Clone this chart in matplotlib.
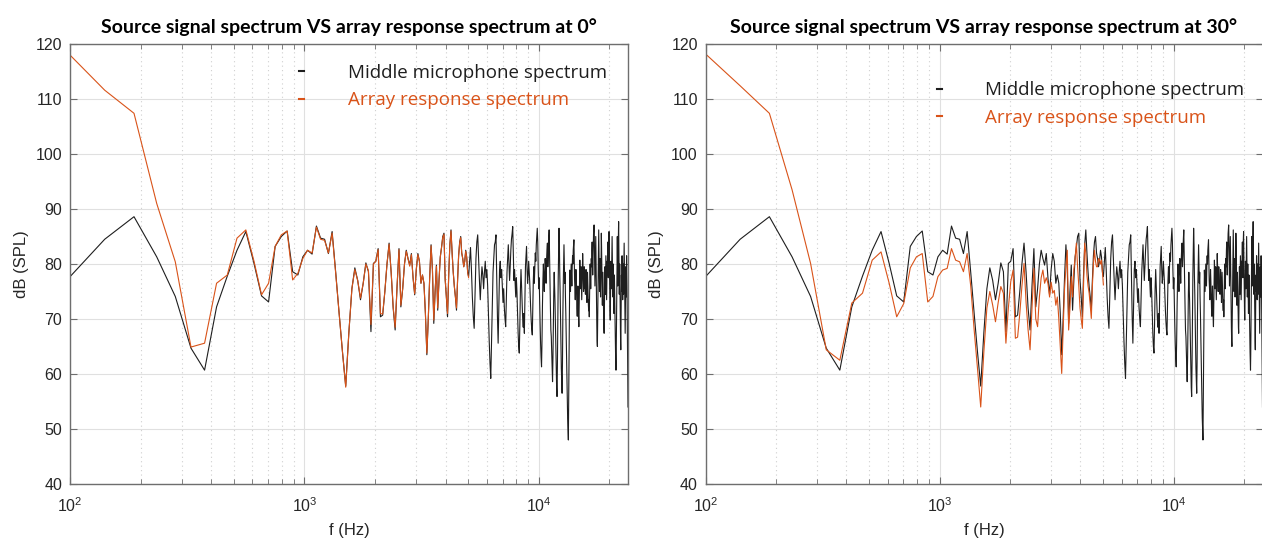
import numpy as np
import matplotlib
matplotlib.use("Agg")
import matplotlib.pyplot as plt

# FFT bin spacing (48 kHz / 1024) and first plotted bin
bin_width = 46.875
first_bin = 2

# middle microphone spectrum, bins 2..512 (same recording in both panels)
mic_db = [
    76.4, 84.5, 88.6, 81.3, 74.1, 64.7, 60.7, 72.2, 77.8, 82.5,
    85.9, 80.1, 74.2, 73.1, 83.2, 85.0, 86.0, 78.6, 78.0, 81.3,
    82.5, 81.8, 86.9, 84.7, 84.5, 81.9, 85.9, 78.5, 71.0, 64.0,
    57.8, 67.5, 75.5, 79.3, 77.0, 73.5, 76.5, 80.2, 78.6, 67.7,
    80.1, 80.5, 82.8, 70.4, 70.7, 75.0, 80.0, 83.8, 78.5, 72.0,
    68.0, 76.0, 82.8, 72.2, 75.5, 80.0, 82.5, 81.0, 79.8, 81.9,
    77.5, 74.4, 79.0, 81.9, 80.5, 76.5, 78.0, 76.5, 71.0, 63.5,
    70.0, 77.5, 83.5, 79.0, 69.2, 75.0, 79.8, 71.6, 77.0, 81.3,
    83.0, 85.0, 85.6, 77.1, 74.0, 70.4, 78.0, 83.5, 86.2, 82.0,
    78.5, 75.9, 74.0, 71.6, 77.0, 81.5, 84.0, 85.0, 82.0, 81.0,
    79.5, 80.5, 82.5, 81.3, 78.5, 77.7, 80.5, 83.0, 79.0, 74.0,
    70.5, 68.3, 75.0, 81.0, 84.0, 85.3, 81.0, 77.0, 73.5, 77.0,
    79.5, 78.0, 75.5, 78.5, 80.5, 77.5, 79.0, 76.0, 71.0, 66.0,
    62.0, 59.2, 66.0, 73.5, 78.5, 81.0, 83.5, 84.0, 85.3, 78.0,
    70.5, 65.6, 72.0, 79.0, 80.5, 77.5, 79.0, 76.0, 73.0, 75.5,
    72.0, 70.0, 68.6, 74.0, 78.5, 81.0, 83.5, 80.0, 77.0, 79.5,
    82.5, 84.5, 85.5, 86.8, 82.0, 77.0, 79.0, 76.5, 74.0, 77.5,
    75.0, 71.0, 67.5, 65.0, 63.8, 69.0, 75.5, 79.0, 76.0, 72.5,
    70.0, 68.5, 71.0, 67.4, 74.0, 79.5, 81.5, 83.2, 79.0, 76.5,
    78.0, 80.5, 78.5, 76.8, 74.0, 71.5, 69.5, 68.0, 67.1, 72.0,
    77.0, 79.5, 76.5, 79.0, 82.0, 80.5, 83.5, 85.0, 86.5, 84.0,
    79.0, 75.5, 77.5, 73.0, 69.0, 65.5, 63.0, 61.3, 66.0, 72.5,
    77.0, 80.0, 77.5, 75.0, 78.5, 81.0, 79.0, 76.5, 80.5, 82.5,
    83.8, 79.5, 81.5, 84.5, 86.2, 81.0, 75.5, 72.0, 68.0, 66.8,
    64.0, 61.5, 58.6, 63.0, 69.5, 75.0, 78.5, 76.0, 73.0, 69.0,
    64.0, 60.0, 57.5, 55.9, 62.0, 70.0, 77.5, 82.0, 86.5, 83.5,
    78.0, 74.5, 70.0, 65.0, 61.0, 58.5, 56.5, 62.0, 70.5, 76.0,
    79.5, 83.5, 80.0, 76.5, 78.5, 74.0, 71.0, 67.0, 63.0, 58.0,
    55.0, 52.0, 50.0, 48.0, 56.0, 65.0, 72.5, 78.9, 77.0, 75.0,
    77.5, 80.0, 78.0, 76.0, 79.5, 81.5, 80.0, 82.5, 83.5, 84.4,
    80.5, 77.0, 75.5, 73.5, 76.5, 79.0, 77.0, 74.0, 72.0, 70.5,
    73.5, 76.0, 72.0, 70.0, 68.6, 72.0, 76.5, 80.7, 78.0, 75.5,
    77.5, 79.5, 76.5, 73.5, 76.0, 78.5, 81.9, 80.0, 77.5, 75.0,
    77.0, 79.5, 78.0, 75.5, 77.0, 74.5, 76.5, 79.0, 77.5, 75.0,
    73.0, 76.0, 78.5, 76.5, 74.0, 72.5, 71.5, 73.5, 70.4, 74.5,
    77.5, 80.0, 78.0, 75.5, 78.5, 81.0, 79.5, 82.5, 84.0, 81.5,
    78.0, 80.5, 83.5, 85.5, 86.5, 87.1, 84.0, 79.5, 76.0, 79.0,
    82.0, 85.0, 80.5, 76.5, 72.0, 68.5, 66.0, 65.0, 69.5, 75.0,
    79.5, 84.5, 86.2, 82.0, 78.0, 75.0, 78.5, 81.0, 77.5, 74.0,
    76.5, 80.0, 85.6, 83.0, 79.0, 75.5, 72.5, 75.0, 78.5, 76.0,
    72.5, 70.0, 68.5, 67.4, 71.0, 75.5, 79.5, 77.0, 74.5, 78.0,
    81.5, 79.0, 76.0, 73.5, 77.5, 80.5, 78.0, 82.0, 84.0, 80.5,
    77.5, 81.5, 84.5, 85.9, 82.0, 78.5, 74.5, 71.5, 69.8, 73.5,
    77.0, 80.5, 78.5, 75.5, 79.0, 82.5, 85.0, 81.0, 77.0, 74.0,
    77.5, 80.0, 76.5, 73.0, 71.0, 74.5, 78.0, 75.5, 72.0, 69.0,
    66.5, 64.0, 62.0, 60.7, 63.5, 68.0, 73.5, 78.0, 82.5, 85.0,
    80.5, 76.0, 79.5, 83.0, 85.5, 87.7, 84.0, 79.0, 74.5, 77.0,
    80.0, 76.5, 72.0, 68.5, 66.0, 64.4, 69.0, 74.5, 78.0, 75.0,
    78.5, 81.5, 79.0, 76.0, 73.5, 77.0, 80.0, 77.5, 74.5, 78.0,
    81.0, 83.8, 80.5, 76.5, 73.0, 70.0, 67.4, 71.5, 76.0, 79.5,
    77.0, 74.0, 78.5, 81.5, 79.0, 76.0, 72.0, 68.0, 63.0, 58.0,
    54.0,
]

# array response, bins 2..107, steered at 0 deg
array_db_0 = [
    119.2, 111.6, 107.4, 91.0, 80.4, 64.9, 65.6, 76.5, 78.0, 84.7,
    86.2, 80.5, 74.4, 76.5, 83.2, 85.3, 86.0, 77.1, 78.3, 81.0,
    82.5, 82.0, 86.7, 84.5, 84.3, 82.0, 85.6, 78.3, 71.0, 64.0,
    57.6, 67.5, 75.5, 79.0, 77.0, 73.8, 76.5, 80.0, 78.8, 69.0,
    80.0, 80.5, 82.6, 71.0, 70.9, 75.0, 80.0, 83.6, 78.5, 72.2,
    68.5, 76.0, 82.6, 72.5, 75.5, 80.0, 82.3, 81.0, 79.6, 81.7,
    77.5, 74.6, 79.0, 81.7, 80.5, 76.5, 78.0, 76.5, 71.0, 63.8,
    70.0, 77.5, 83.3, 79.0, 69.8, 75.0, 79.6, 72.0, 77.0, 81.2,
    83.0, 84.8, 85.4, 77.3, 74.0, 71.0, 78.0, 83.5, 86.0, 82.0,
    78.5, 76.0, 74.0, 72.0, 77.0, 81.5, 83.8, 84.8, 82.0, 81.0,
    79.5, 80.5, 82.3, 81.2, 78.5, 77.5,
]

# array response, bins 2..107, steered at 30 deg
array_db_30 = [
    119.3, 112.4, 107.4, 93.5, 80.1, 64.4, 62.5, 72.9, 74.7, 80.7,
    82.2, 76.5, 70.4, 72.8, 79.3, 81.3, 81.9, 73.1, 74.1, 77.7,
    78.9, 79.2, 82.8, 80.7, 80.4, 78.6, 81.9, 76.0, 68.0, 61.0,
    54.0, 64.0, 72.0, 75.0, 72.5, 69.5, 73.0, 75.9, 74.7, 65.6,
    72.0, 76.8, 78.9, 66.5, 66.7, 71.0, 76.0, 80.1, 73.0, 68.0,
    64.4, 72.0, 79.2, 70.0, 68.6, 74.0, 77.5, 78.9, 76.5, 77.5,
    76.5, 74.0, 76.7, 74.7, 75.2, 72.5, 74.0, 70.0, 65.0, 60.1,
    68.0, 75.5, 79.5, 82.5, 68.0, 72.0, 77.7, 74.0, 79.0, 81.0,
    83.8, 79.5, 76.0, 72.0, 70.0, 68.3, 76.0, 83.8, 82.0, 78.0,
    76.0, 74.7, 72.5, 70.1, 76.0, 80.0, 82.5, 80.5, 79.5, 79.5,
    81.0, 80.7, 80.0, 80.7, 78.5, 76.2,
]

titles = [
    "Source signal spectrum VS array response spectrum at 0°",
    "Source signal spectrum VS array response spectrum at 30°",
]
labels = ["Middle microphone spectrum", "Array response spectrum"]

BLACK = "#1e1e1e"
ORANGE = "#D95319"
SPINE = "#6e6e6e"

plt.rcParams["font.family"] = ["Liberation Sans", "DejaVu Sans"]
plt.rcParams["mathtext.fontset"] = "custom"
plt.rcParams["mathtext.rm"] = "Liberation Sans"
plt.rcParams["mathtext.it"] = "Liberation Sans"


def freqs(values):
    return (np.arange(len(values)) + first_bin) * bin_width


def draw_panel(ax, array_db, title, legend_xy):
    ax.plot(freqs(mic_db), mic_db, color=BLACK, lw=0.8)
    ax.plot(freqs(array_db), array_db, color=ORANGE, lw=0.8)
    ax.set_xscale("log")
    ax.set_xlim(100, 24000)
    ax.set_ylim(40, 120)
    ax.set_yticks(np.arange(40, 121, 10))

    ax.grid(True, which="major", color="#e0e0e0", lw=0.8, ls="-")
    ax.grid(True, which="minor", axis="x", color="#cfcfcf", lw=0.8, ls=(0, (1, 3)))
    ax.set_axisbelow(True)

    ax.tick_params(which="both", direction="in", top=True, right=True,
                   color=SPINE, labelcolor="#262626", labelsize=11.5)
    ax.tick_params(which="major", length=5)
    ax.tick_params(which="minor", length=3.5)
    ax.tick_params(axis="x", which="both", pad=8.5)
    ax.tick_params(axis="y", which="both", pad=5.5)
    for s in ax.spines.values():
        s.set_color(SPINE)
        s.set_linewidth(1.0)

    ax.set_xlabel("f (Hz)", fontsize=12, color="#262626", labelpad=6)
    ax.set_ylabel("dB (SPL)", fontsize=12, color="#262626", labelpad=5)
    ax.set_title(title, fontsize=14, fontweight="bold", family="Lato", pad=8)

    leg = ax.legend(ax.get_lines(), labels, loc="upper left",
                    bbox_to_anchor=legend_xy, frameon=False,
                    handlelength=0.3, handletextpad=2.3, labelspacing=0.5,
                    borderpad=0, borderaxespad=0,
                    prop={"family": "Open Sans", "size": 13.5})
    for txt, c in zip(leg.get_texts(), [BLACK, ORANGE]):
        txt.set_color(c)
    for h in leg.legend_handles:
        h.set_linewidth(1.5)


def main():
    fig = plt.figure(figsize=(12.62, 5.43), dpi=100)
    ax1 = fig.add_axes([70 / 1262, 59 / 543, 558 / 1262, 440 / 543])
    ax2 = fig.add_axes([705.5 / 1262, 59 / 543, 557 / 1262, 440 / 543])
    draw_panel(ax1, array_db_0, titles[0], (0.41, 0.955))
    draw_panel(ax2, array_db_30, titles[1], (0.415, 0.915))
    fig.savefig("out.png", dpi=100)


if __name__ == "__main__":
    main()
